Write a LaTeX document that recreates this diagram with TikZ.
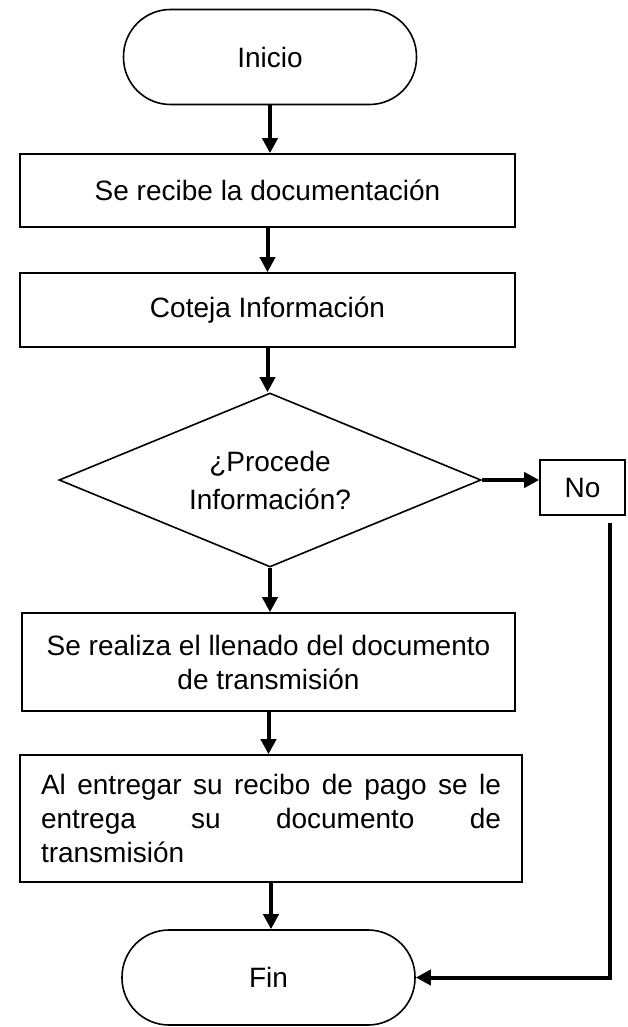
\documentclass[tikz,border=0pt]{standalone}
\usepackage{fontspec}
\setmainfont{Liberation Sans}
\usepackage{tikz}
\usetikzlibrary{positioning}
\usetikzlibrary{arrows.meta}
\usetikzlibrary{shapes.geometric}

\tikzset{
  caja/.style={draw, line width=1.6pt, inner sep=0pt},
  terminal/.style={draw, line width=1.6pt, rounded corners=47pt,
    minimum width=293pt, minimum height=95pt},
  decision/.style={draw, diamond, line width=1.6pt, aspect=2.4,
    minimum width=422pt, minimum height=174pt, inner sep=0pt, align=center,
    font=\fontsize{28}{38}\selectfont},
  flecha/.style={line width=4pt, -{Triangle[length=15pt,width=15pt]}}
}

\begin{document}
\begin{tikzpicture}[x=1pt, y=-1pt, font=\fontsize{28}{34}\selectfont]
    \useasboundingbox (0,0) rectangle (627,1027);

    % Inicio y pasos del proceso
    \node[terminal] (inicio) at (270,57) {Inicio};
    \node[caja, minimum width=495pt, minimum height=73pt] (recibe) at (267.5,190.5)
        {Se recibe la documentación};
    \node[caja, minimum width=495pt, minimum height=74pt] (coteja) at (267.5,310)
        {Coteja Información};
    \node[decision] (procede) at (270,480) {¿Procede\\Información?};
    \node[caja, minimum width=85pt, minimum height=55pt] (no) at (582.5,487.5) {No};
    \node[caja, minimum width=493pt, minimum height=98pt, align=center] (llenado) at (268.5,662)
        {Se realiza el llenado del documento\\de transmisión};
    \node[caja, minimum width=502pt, minimum height=127pt, text width=460pt, align=justify] (entrega) at (271,818.5)
        {Al entregar su recibo de pago se le\linebreak entrega su documento de\linebreak transmisión};
    \node[terminal] (fin) at (268.5,977.5) {Fin};

    % Flechas del flujo principal
    \foreach \a/\b in {inicio/recibe, recibe/coteja, coteja/procede,
                       procede/llenado, llenado/entrega, entrega/fin} {
        \draw[flecha] (\a.south) -- (\a.south |- \b.north);
    }

    % Rama del No
    \draw[flecha] (procede.east) -- (procede.east -| no.west);
    \coordinate (bajano) at (610,523);
    \draw[flecha] (bajano) |- (fin.east);

\end{tikzpicture}
\end{document}
